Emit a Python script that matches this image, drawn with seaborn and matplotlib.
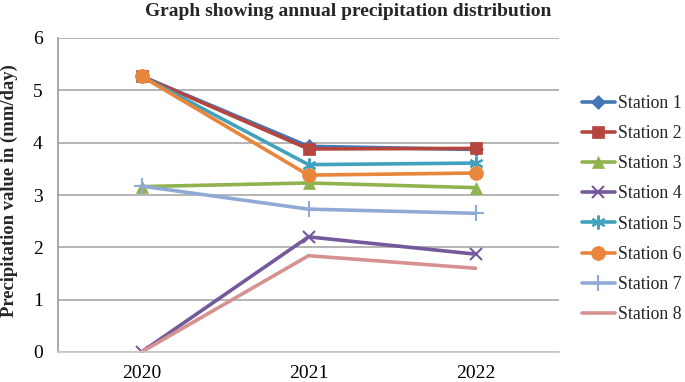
import matplotlib
matplotlib.use("Agg")
import matplotlib.pyplot as plt
import seaborn as sns
import pandas as pd

years = ["2020", "2021", "2022"]
stations = ["Station 1", "Station 2", "Station 3", "Station 4",
            "Station 5", "Station 6", "Station 7", "Station 8"]
station1 = [5.27, 3.93, 3.87]
station2 = [5.27, 3.88, 3.89]
station3 = [3.16, 3.23, 3.14]
station4 = [0.00, 2.20, 1.87]
station5 = [5.27, 3.58, 3.61]
station6 = [5.27, 3.38, 3.42]
station7 = [3.17, 2.73, 2.65]
station8 = [0.00, 1.84, 1.60]
values = [station1, station2, station3, station4,
          station5, station6, station7, station8]

colors = ["#4476B4", "#B5463F", "#90B350", "#755A9B",
          "#40A2BC", "#E8863C", "#90AAD6", "#D69290"]
markers = ["D", "s", "^", "x", (6, 2, 0), "o", "+", None]
msizes = [7, 9, 9, 9, 10, 10, 11, 0]

rows = []
for s, vals in zip(stations, values):
    for i, (y, v) in enumerate(zip(years, vals)):
        rows.append({"station": s, "year": y, "pos": i, "value": v})
df = pd.DataFrame(rows)

sns.set_theme(style="white")
plt.rcParams["font.family"] = ["Liberation Serif", "DejaVu Serif"]

fig = plt.figure(figsize=(6.85, 3.82), dpi=100)
ax = fig.add_axes([58/685, 1-352/382, (559-58)/685, (352-38)/382])

for s, c, m, ms in zip(stations, colors, markers, msizes):
    sub = df[df["station"] == s]
    sns.lineplot(data=sub, x="pos", y="value", ax=ax, color=c, linewidth=2.6,
                 marker=m if m is not None else None, markersize=ms,
                 markeredgecolor=c, markeredgewidth=1.5 if m in ["x", "+", (6, 2, 0)] else 0.5,
                 label=s, legend=False)

ax.set_xlim(-0.5, 2.5)
ax.set_ylim(0, 6)
ax.set_xticks(range(len(years)))
ax.set_xticklabels(years)
ax.set_yticks(range(0, 7))
ax.yaxis.grid(True, color="#A0A0A0", linewidth=1.1)
ax.xaxis.grid(False)
for side in ["top", "right"]:
    ax.spines[side].set_visible(False)
ax.spines["left"].set_color("#A0A0A0")
ax.spines["bottom"].set_color("#C8C8C8")
ax.tick_params(axis="x", length=0, labelsize=14, colors="black", pad=9)
ax.tick_params(axis="y", length=0, labelsize=14, colors="black", pad=11)
ax.set_xlabel("")
ax.set_ylabel("")
fig.text(9/685, 1-190.5/382, "Precipitation value in (mm/day)", rotation=90,
         fontsize=13.4, fontweight="bold", ha="center", va="center")
fig.text(348/685, 1-12/382, "Graph showing annual precipitation distribution",
         fontsize=14, fontweight="bold", ha="center", va="center")

handles, labels = ax.get_legend_handles_labels()
fig.legend(handles, labels, loc="upper left", bbox_to_anchor=(582/685, 1-95/382),
           frameon=False, fontsize=12.8, handlelength=1.85, handletextpad=0.15,
           labelspacing=0.74, borderaxespad=0, borderpad=0)

fig.savefig("out.png", dpi=100)
